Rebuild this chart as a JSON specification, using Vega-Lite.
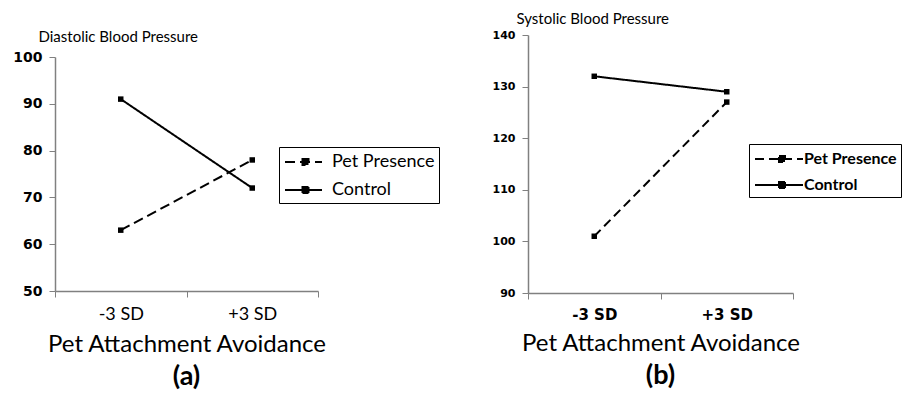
{
  "$schema": "https://vega.github.io/schema/vega-lite/v6.json",
  "padding": {"left": 12, "top": 11, "right": 0, "bottom": 0},
  "background": "white",
  "config": {"view": {"stroke": null}, "concat": {"spacing": 210}},
  "datasets": {
    "dia": [
      {"avoid": "-3 SD", "group": "Pet Presence", "value": 63},
      {"avoid": "+3 SD", "group": "Pet Presence", "value": 78},
      {"avoid": "-3 SD", "group": "Control", "value": 91},
      {"avoid": "+3 SD", "group": "Control", "value": 72}
    ],
    "sys": [
      {"avoid": "-3 SD", "group": "Pet Presence", "value": 101},
      {"avoid": "+3 SD", "group": "Pet Presence", "value": 127},
      {"avoid": "-3 SD", "group": "Control", "value": 132},
      {"avoid": "+3 SD", "group": "Control", "value": 129}
    ]
  },
  "bounds": "flush",
  "resolve": {"scale": {"strokeDash": "independent", "x": "independent", "y": "independent"}, "legend": {"strokeDash": "independent"}},
  "hconcat": [
    {
      "width": 263,
      "height": 256,
      "data": {"name": "dia"},
      "title": {"text": "(a)", "orient": "bottom", "font": "Lato", "fontSize": 27, "fontWeight": "bold", "color": "black", "offset": 8},
      "encoding": {
        "x": {"field": "avoid", "type": "nominal", "sort": ["-3 SD", "+3 SD"],
          "scale": {"type": "band", "paddingInner": 0, "paddingOuter": 0},
          "axis": {"title": "Pet Attachment Avoidance", "titleFont": "Lato", "titleFontSize": 24, "titleFontWeight": "normal", "titleColor": "black", "titlePadding": 9,
            "labelFont": "Lato", "labelFontSize": 18, "labelColor": "black", "labelAngle": 0, "labelPadding": 8,
            "tickBand": "extent", "tickSize": 6, "tickColor": "#808080", "domainColor": "#808080", "domainWidth": 1.5, "grid": false}},
        "y": {"field": "value", "type": "quantitative",
          "scale": {"domain": [50, 100], "range": [256, 22], "nice": false, "zero": false},
          "axis": {"values": [50, 60, 70, 80, 90, 100], "title": "Diastolic Blood Pressure", "titleAngle": 0, "titleAlign": "left", "titleBaseline": "alphabetic",
            "titleX": -17, "titleY": 6, "titleFont": "Lato", "titleFontSize": 15, "titleFontWeight": "normal", "titleColor": "black",
            "labelFont": "DejaVu Sans", "labelFontSize": 14, "labelFontWeight": "bold", "labelColor": "black", "labelPadding": 7,
            "tickSize": 6, "tickColor": "#808080", "domainColor": "#808080", "domainWidth": 1.5, "grid": false}}
      },
      "layer": [
        {"mark": {"type": "line", "color": "black", "strokeWidth": 2},
          "encoding": {"strokeDash": {"field": "group", "type": "nominal",
            "scale": {"domain": ["Pet Presence", "Control"], "range": [[10, 5], [1, 0]]},
            "legend": {"orient": "none", "legendX": 224, "legendY": 112, "title": null, "strokeColor": "black", "padding": 4,
              "labelFont": "Lato", "labelFontSize": 18, "labelColor": "black", "labelOffset": 27, "rowPadding": 8,
              "symbolType": "M-0.9,0H2.8M0.85,-0.3H1.45V0.3H0.85Z", "symbolSize": 400, "symbolStrokeColor": "black", "symbolStrokeWidth": 2, "symbolFillColor": "black"}}}},
        {"mark": {"type": "point", "shape": "square", "filled": true, "color": "black", "size": 30, "opacity": 1},
          "encoding": {"detail": {"field": "group"}}}
      ]
    },
    {
      "width": 265,
      "height": 258,
      "data": {"name": "sys"},
      "title": {"text": "(b)", "orient": "bottom", "font": "Lato", "fontSize": 27, "fontWeight": "bold", "color": "black", "offset": 8},
      "encoding": {
        "x": {"field": "avoid", "type": "nominal", "sort": ["-3 SD", "+3 SD"],
          "scale": {"type": "band", "paddingInner": 0, "paddingOuter": 0},
          "axis": {"title": "Pet Attachment Avoidance", "titleFont": "Lato", "titleFontSize": 24, "titleFontWeight": "normal", "titleColor": "black", "titlePadding": 9,
            "labelFont": "DejaVu Sans", "labelFontSize": 15, "labelFontWeight": "bold", "labelColor": "black", "labelAngle": 0, "labelPadding": 8,
            "tickBand": "extent", "tickSize": 6, "tickColor": "#808080", "domainColor": "#808080", "domainWidth": 1.5, "grid": false}},
        "y": {"field": "value", "type": "quantitative",
          "scale": {"domain": [90, 140], "nice": false, "zero": false},
          "axis": {"values": [90, 100, 110, 120, 130, 140], "title": "Systolic Blood Pressure", "titleAngle": 0, "titleAlign": "left", "titleBaseline": "alphabetic",
            "titleX": -12, "titleY": -12, "titleFont": "Lato", "titleFontSize": 15, "titleFontWeight": "normal", "titleColor": "black",
            "labelFont": "DejaVu Sans", "labelFontSize": 11, "labelFontWeight": "bold", "labelColor": "black", "labelPadding": 7,
            "tickSize": 6, "tickColor": "#808080", "domainColor": "#808080", "domainWidth": 1.5, "grid": false}}
      },
      "layer": [
        {"mark": {"type": "line", "color": "black", "strokeWidth": 2},
          "encoding": {"strokeDash": {"field": "group", "type": "nominal",
            "scale": {"domain": ["Pet Presence", "Control"], "range": [[9, 5], [1, 0]]},
            "legend": {"orient": "none", "legendX": 221, "legendY": 109, "title": null, "strokeColor": "black", "padding": 4,
              "labelFont": "Lato", "labelFontSize": 16, "labelFontWeight": "bold", "labelColor": "black", "labelOffset": 29, "rowPadding": 7,
              "symbolType": "M-0.9,0H3.9M1.5,-0.3H2.1V0.3H1.5Z", "symbolSize": 400, "symbolStrokeColor": "black", "symbolStrokeWidth": 2, "symbolFillColor": "black"}}}},
        {"mark": {"type": "point", "shape": "square", "filled": true, "color": "black", "size": 30, "opacity": 1},
          "encoding": {"detail": {"field": "group"}}}
      ]
    }
  ]
}
